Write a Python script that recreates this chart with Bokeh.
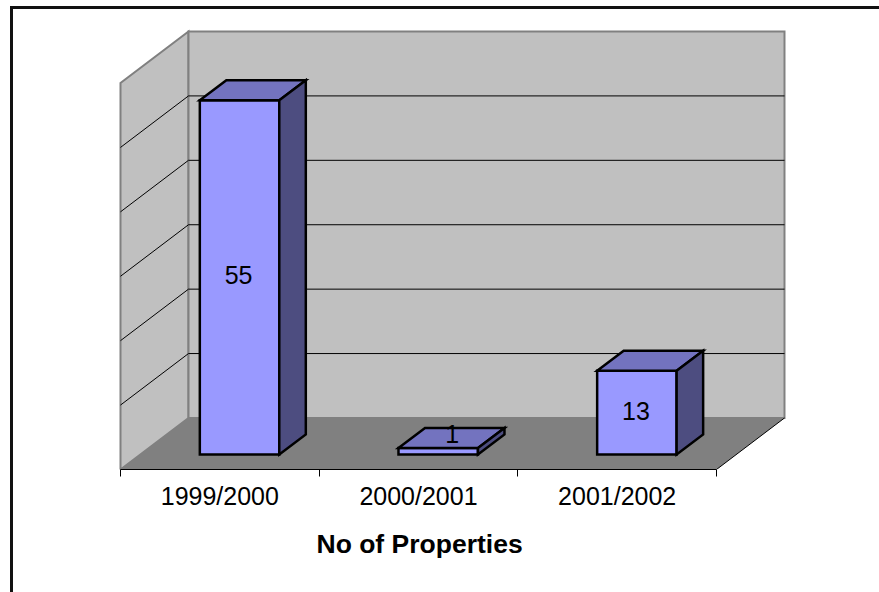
from bokeh.plotting import figure
from bokeh.models import Range1d, FixedTicker, Title
from bokeh.core.properties import value
from bokeh.embed import file_html
from bokeh.resources import INLINE

categories = ["1999/2000", "2000/2001", "2001/2002"]
properties = [55, 1, 13]
grid_values = [10, 20, 30, 40, 50]
y_top = 60
axis_title = "No of Properties"

FONT = "Liberation Sans"
X_DEPTH, Y_DEPTH = 68 / 198.67, 8.0      # full depth of the box in data units
BAR_W, BAR_FRONT, BAR_BACK = 0.4, 0.29, 0.68  # width / depth fractions

def P(x, v, d):
    """project (x, value, depth 0..1) onto the plane of the chart"""
    return x + d * X_DEPTH, v - Y_DEPTH + d * Y_DEPTH

def patch(p, pts, fill, line, width=1.0):
    xs, ys = zip(*pts)
    p.patch(list(xs), list(ys), fill_color=fill, line_color=line, line_width=width, line_join="miter")

pad_x = 3 / 198.67
pad_y = 3 / 6.43
p = figure(width=869, height=586, output_backend="svg", toolbar_location=None,
           x_range=Range1d(-pad_x, 3 + X_DEPTH + pad_x),
           y_range=Range1d(-Y_DEPTH, y_top + pad_y),
           min_border_left=104, min_border_right=95,
           min_border_top=19, min_border_bottom=126,
           margin=(6, 0, 0, 10), background_fill_color=None, outline_line_color=None,
           styles={"border-top": "3px solid #111", "border-left": "3px solid #111"})
p.grid.visible = False
p.yaxis.visible = False

ax = p.xaxis[0]
ax.ticker = FixedTicker(ticks=[0.5, 1.5, 2.5], minor_ticks=[0, 1, 2, 3])
ax.major_label_overrides = {i + 0.5: c for i, c in enumerate(categories)}
ax.bounds = (0, 3)
ax.major_tick_out = 0
ax.major_tick_in = 0
ax.minor_tick_out = 7
ax.minor_tick_in = 0
ax.minor_tick_line_color = "black"
ax.axis_line_color = "black"
ax.axis_line_width = 1
ax.major_label_text_font = FONT
ax.major_label_text_font_size = "25px"
ax.major_label_text_color = "black"
ax.major_label_standoff = 5

WALL, FLOOR, EDGE = "#C0C0C0", "#808080", "#808080"
patch(p, [P(0, 0, 0), P(0, y_top, 0), P(0, y_top, 1), P(0, 0, 1)], WALL, EDGE, 2)
patch(p, [P(0, 0, 1), P(0, y_top, 1), P(3, y_top, 1), P(3, 0, 1)], WALL, EDGE, 2)
patch(p, [P(0, 0, 0), P(0, 0, 1), P(3, 0, 1), P(3, 0, 0)], FLOOR, None)
a, b = P(3, 0, 0), P(3, 0, 1)
p.line([a[0], b[0]], [a[1], b[1]], line_color="black", line_width=1)

for g in grid_values:
    pts = [P(0, g, 0), P(0, g, 1), P(3, g, 1)]
    p.line([q[0] for q in pts], [q[1] for q in pts], line_color="black", line_width=1)

for i, v in enumerate(properties):
    l = i + 0.5 - BAR_W / 2
    r = i + 0.5 + BAR_W / 2
    patch(p, [P(l, 0, BAR_FRONT), P(l, v, BAR_FRONT), P(r, v, BAR_FRONT), P(r, 0, BAR_FRONT)], "#9999FF", "black", 2.5)
    patch(p, [P(l, v, BAR_FRONT), P(l, v, BAR_BACK), P(r, v, BAR_BACK), P(r, v, BAR_FRONT)], "#7373BF", "black", 2.5)
    patch(p, [P(r, 0, BAR_FRONT), P(r, v, BAR_FRONT), P(r, v, BAR_BACK), P(r, 0, BAR_BACK)], "#4D4D80", "black", 2.5)

label_dx = [-1, 0, -1]
label_dy = [-2, -2, -2]
label_shift = [0, 14, 0]
label_lift = [0, -15, 0]
for i, v in enumerate(properties):
    x, y = P(i + 0.5, v / 2, BAR_FRONT)
    p.text([x], [y], text=[str(v)], text_font=value(FONT), text_font_size="25px",
           text_align="center", text_baseline="middle", text_color="black",
           x_offset=label_dx[i] + label_shift[i], y_offset=label_dy[i] + label_lift[i])

p.add_layout(Title(text=axis_title, text_font=FONT, text_font_size="26.5px",
                   text_font_style="bold", text_color="black",
                   align="left", offset=199, standoff=29), "below")

open("out.html", "w").write(file_html(p, INLINE))
